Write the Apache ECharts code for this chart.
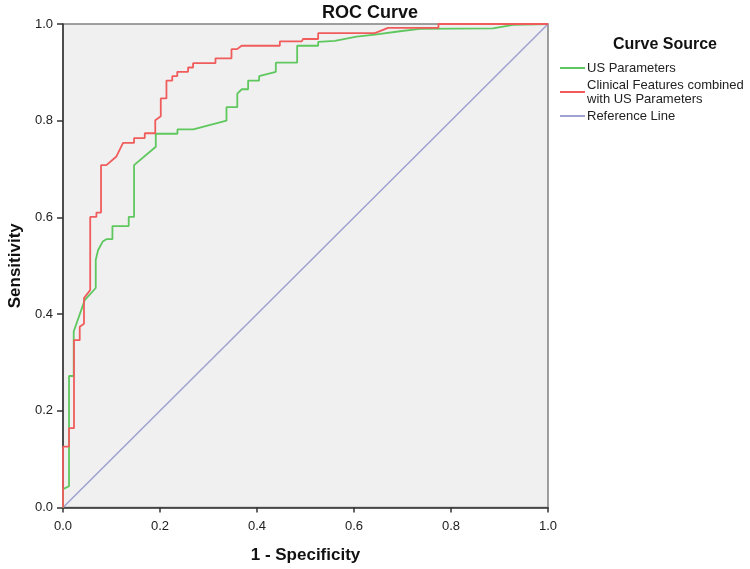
<!DOCTYPE html>
<html>
<head>
<meta charset="utf-8">
<script src="https://cdn.jsdelivr.net/npm/echarts@6/dist/echarts.min.js"></script>
<style>
html,body{margin:0;padding:0;background:#fff;}
#main{width:750px;height:569px;}
</style>
</head>
<body>
<div id="main"></div>
<script>
const seriesNames = ['US Parameters', 'Clinical Features combined\nwith US Parameters', 'Reference Line'];
const xTicks = [0, 0.2, 0.4, 0.6, 0.8, 1.0];

const usParameters = [
  [0,0],[0,0.038],[0.0124,0.044],[0.0124,0.272],[0.0221,0.272],[0.0221,0.364],
  [0.0448,0.429],[0.0675,0.454],[0.0675,0.512],[0.0722,0.532],[0.0819,0.550],
  [0.0895,0.555],[0.1019,0.555],[0.1019,0.582],[0.1355,0.582],[0.1355,0.601],
  [0.1465,0.601],[0.1465,0.708],[0.1913,0.746],[0.1913,0.773],[0.2360,0.773],
  [0.2360,0.782],[0.2686,0.782],[0.3371,0.800],[0.3371,0.828],[0.3594,0.828],
  [0.3594,0.856],[0.3687,0.865],[0.3817,0.865],[0.3817,0.883],[0.4044,0.883],
  [0.4044,0.892],[0.4388,0.901],[0.4388,0.920],[0.4828,0.920],[0.4828,0.955],
  [0.5261,0.955],[0.5261,0.963],[0.5606,0.965],[0.6053,0.974],[0.6431,0.978],
  [0.6947,0.985],[0.7359,0.990],[0.8865,0.991],[0.9278,0.998],[1,1]
];

const clinicalCombined = [
  [0,0],[0,0.126],[0.0124,0.126],[0.0124,0.164],[0.0227,0.164],[0.0227,0.346],
  [0.0345,0.346],[0.0345,0.374],[0.0433,0.380],[0.0433,0.433],[0.0561,0.450],
  [0.0561,0.601],[0.0689,0.601],[0.0689,0.610],[0.0784,0.610],[0.0784,0.708],
  [0.0895,0.708],[0.1102,0.726],[0.1238,0.754],[0.1465,0.754],[0.1465,0.764],
  [0.1686,0.764],[0.1686,0.774],[0.1902,0.774],[0.1902,0.801],[0.2016,0.809],
  [0.2016,0.846],[0.2133,0.846],[0.2133,0.883],[0.2253,0.883],[0.2253,0.892],
  [0.2356,0.892],[0.2356,0.901],[0.2579,0.901],[0.2579,0.910],[0.2682,0.910],
  [0.2682,0.919],[0.3144,0.919],[0.3144,0.929],[0.3474,0.929],[0.3474,0.948],
  [0.3590,0.948],[0.3681,0.955],[0.4471,0.955],[0.4471,0.964],[0.4919,0.964],
  [0.4951,0.969],[0.5261,0.969],[0.5261,0.981],[0.6431,0.981],[0.6700,0.992],
  [0.7741,0.992],[0.7741,1.0],[1,1]
];

const referenceLine = [[0,0],[1,1]];

const font = 'Liberation Sans, Arial, sans-serif';
const chart = echarts.init(document.getElementById('main'));
chart.setOption({
  animation: false,
  backgroundColor: '#ffffff',
  title: [
    { text: 'ROC Curve', left: 365, top: -1, textAlign: 'center',
      textStyle: { fontFamily: font, fontSize: 18, fontWeight: 'bold', color: '#111' } },
    { text: 'Curve Source', left: 660, top: 32, textAlign: 'center',
      textStyle: { fontFamily: font, fontSize: 16, fontWeight: 'bold', color: '#111' } }
  ],
  legend: {
    orient: 'vertical', left: 560, top: 61, padding: 0, itemWidth: 25, itemHeight: 2, itemGap: 3,
    icon: 'rect', data: seriesNames,
    textStyle: { fontFamily: font, fontSize: 13, color: '#222', lineHeight: 14, padding: [0,0,0,-3] }
  },
  grid: {
    left: 63, top: 24, width: 485, height: 483.5, show: true,
    outerBoundsMode: 'none', containLabel: false,
    backgroundColor: '#f0f0f0', borderColor: '#808080', borderWidth: 1.5
  },
  xAxis: {
    type: 'value', min: 0, max: 1, interval: 0.2,
    name: '1 - Specificity', nameLocation: 'middle', nameGap: 39,
    nameTextStyle: { fontFamily: font, fontSize: 17, fontWeight: 'bold', color: '#111' },
    axisLine: { show: true, lineStyle: { color: '#333', width: 1.5 } },
    axisTick: { show: true, length: 5, lineStyle: { color: '#333', width: 1.5 } },
    axisLabel: { fontFamily: font, fontSize: 13, color: '#222', margin: 12,
      formatter: v => v.toFixed(1) },
    splitLine: { show: false }
  },
  yAxis: {
    type: 'value', min: 0, max: 1, interval: 0.2,
    name: 'Sensitivity', nameLocation: 'middle', nameGap: 39,
    nameTextStyle: { fontFamily: font, fontSize: 17, fontWeight: 'bold', color: '#111' },
    axisLine: { show: true, lineStyle: { color: '#333', width: 1.5 } },
    axisTick: { show: true, length: 6, lineStyle: { color: '#333', width: 1.5 } },
    axisLabel: { fontFamily: font, fontSize: 13, color: '#222', margin: 10,
      formatter: v => v.toFixed(1) },
    splitLine: { show: false }
  },
  series: [
    { name: seriesNames[0], type: 'line', data: usParameters, showSymbol: false, z: 3,
      color: '#5ec75e', lineStyle: { width: 1.8, color: '#5ec75e' } },
    { name: seriesNames[1], type: 'line', data: clinicalCombined, showSymbol: false, z: 4,
      color: '#f05c5c', lineStyle: { width: 1.8, color: '#f05c5c' } },
    { name: seriesNames[2], type: 'line', data: referenceLine, showSymbol: false, z: 2,
      color: '#a0a0d2', lineStyle: { width: 1.5, color: '#a0a0d2' } }
  ]
});
</script>
</body>
</html>
